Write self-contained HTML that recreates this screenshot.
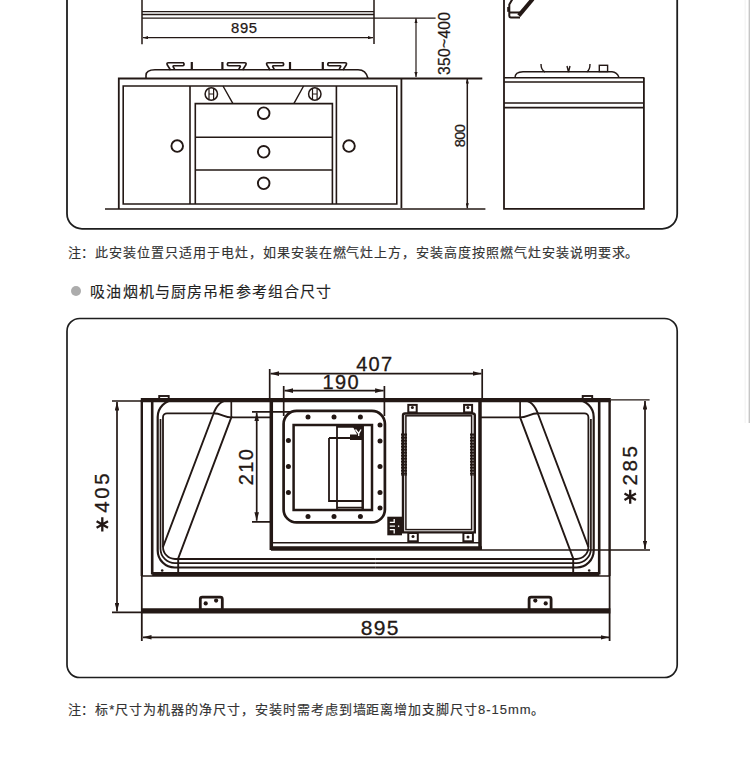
<!DOCTYPE html>
<html lang="zh-CN"><head><meta charset="utf-8">
<style>
html,body{margin:0;padding:0;background:#fff;width:750px;height:767px;overflow:hidden;}
body{position:relative;font-family:"Liberation Sans",sans-serif;}
svg{position:absolute;left:0;top:0;}
.t{position:absolute;white-space:nowrap;color:#333;-webkit-text-stroke:0.15px #333;}
</style></head><body>
<svg width="750" height="767" viewBox="0 0 750 767">
<defs>
<marker id="ah" viewBox="0 0 10 10" refX="10" refY="5" markerWidth="8.5" markerHeight="4.6" orient="auto-start-reverse" markerUnits="userSpaceOnUse" preserveAspectRatio="none"><path d="M0,0 L10,5 L0,10 z" fill="#231815"/></marker>
<marker id="ah2" viewBox="0 0 10 10" refX="10" refY="5" markerWidth="5" markerHeight="3.2" orient="auto-start-reverse" markerUnits="userSpaceOnUse" preserveAspectRatio="none"><path d="M0,0 L10,5 L0,10 z" fill="#231815"/></marker>
</defs>
<!-- right scrollbar line -->
<rect x="748.6" y="0" width="1.4" height="423" fill="#c6c6c6"/><rect x="744.5" y="0" width="1.5" height="423" fill="#f6f6f6"/>
<g fill="none" stroke="#231815" stroke-width="1.6">
<!-- panel 1 -->
<path d="M67,-20 V213.8 A15,15 0 0 0 82,228.8 H662.2 A15,15 0 0 0 677.2,213.8 V-20" stroke-width="1.8" stroke="#1e1e1e"/>
<!-- panel 2 -->
<path d="M67,331.2 A12.7,12.7 0 0 1 79.7,318.5 H664.5 A12.7,12.7 0 0 1 677.2,331.2 V664.8 A12.7,12.7 0 0 1 664.5,677.5 H79.7 A12.7,12.7 0 0 1 67,664.8 Z" stroke-width="1.7" stroke="#1e1e1e"/>
</g>
<g id="top" fill="none" stroke="#231815" stroke-width="1.5">
<!-- hood -->
<path d="M142,-2 V44.3 M374,-2 V44"/>
<path d="M142,11.7 H374 M142,14.5 H374 M142,18.1 H435.6" stroke-width="1.3"/>
<!-- 895 dim -->
<path d="M143,37.7 H373" stroke-width="1.2" marker-start="url(#ah2)" marker-end="url(#ah2)"/>
<!-- 350~400 dim -->
<path d="M416,18.3 V77" stroke-width="1.2" marker-start="url(#ah2)" marker-end="url(#ah2)"/>
<!-- 800 dim -->
<path d="M467.3,78.5 V208.3" stroke-width="1.5" marker-start="url(#ah2)" marker-end="url(#ah2)"/>
<!-- cooktop -->
<path d="M146,78.5 V75.5 Q146,69.8 155,69.8 H358 Q366,69.8 368,78.5" stroke-width="1.6"/>
<!-- cabinet -->
<path d="M118.8,209 V78.5 H482.3" stroke-width="1.8"/>
<path d="M401.4,78.5 V208" stroke-width="1.8"/>
<path d="M123.2,204 V86 H396.8 V204 Z" stroke-width="1.6"/>
<path d="M105,209 H485.4" stroke-width="1.6"/>
<path d="M190,86 V204 M336.4,86 V204" stroke-width="1.6"/>
<path d="M195.3,204 V103.6 H332.4 V204 M195.3,137.2 H332.4 M195.3,170 H332.4" stroke-width="1.6"/>
<path d="M223,86 L232.8,103.4 M303.6,86 L294,103.4" stroke-width="1.4"/>
<circle cx="177.2" cy="146.1" r="5.8" stroke-width="1.9"/>
<circle cx="349" cy="146.1" r="5.8" stroke-width="1.9"/>
<circle cx="263.7" cy="113.2" r="5.8" stroke-width="1.9"/>
<circle cx="263.7" cy="151.8" r="5.8" stroke-width="1.9"/>
<circle cx="263.7" cy="183.3" r="5.8" stroke-width="1.9"/>
<circle cx="211.3" cy="94" r="6.2"/>
<circle cx="314.8" cy="94" r="6.2"/>
<path d="M209,89 V99 M213.6,89 V99 M209,94 H213.6 M312.5,89 V99 M317.1,89 V99 M312.5,94 H317.1" stroke-width="1.2"/>
<!-- grates -->
<path d="M191.8,62 V69.5 M222.4,62 V69.5 M290,62 V69.5 M322.8,62 V69.5" stroke-width="2.2"/>
<g id="grL"><path d="M183.2,65.9 Q184.8,64.3 183.4,62.8 H168.5 Q166.3,62.8 167.2,64.8 L170.5,70 M183.2,65.8 H173.8 Q172.6,66 173.3,67 L174.6,69.2" stroke-width="1.6"/></g>
<g id="grR"><path d="M228.2,65.9 Q226.6,64.3 228,62.8 H244.6 Q246.8,62.8 245.9,64.8 L242.6,70 M228.2,65.8 H239.6 Q240.8,66 240.1,67 L238.8,69.2" stroke-width="1.6"/></g>
<use href="#grL" transform="translate(99.6,0)"/>
<use href="#grR" transform="translate(100.4,0)"/>
<!-- side view -->
<path d="M504,-2 V208.8 H643.9 V77.7" stroke-width="1.8"/>
<path d="M504,77.7 H644.4 M504,82 H644 M504,103 H643 M504,107.6 H644" stroke-width="1.6"/>
<path d="M515,77.5 Q515,72 523,71.8 H612 Q617,72 619,77.5" stroke-width="1.4"/>
<rect x="599.3" y="65.3" width="8.3" height="6.3" stroke-width="1.4"/>
<path d="M541,64 Q541,70 545,72 M567,66 L568.5,72 L570,66 M590,64 Q590,70 586.7,72" stroke-width="1.4"/>
<path d="M512.5,-1 L509.3,4.5 V15.8 Q509.3,17.4 511,17.4 H520 M509.3,12.4 H521" stroke-width="2"/><path d="M518.8,15.6 L532.8,-1" stroke-width="4"/><path d="M508.4,7 V11.8" stroke-width="2.4"/>
</g>
<g id="d2" fill="none" stroke="#231815">
<!-- symmetric left half + mirror -->
<g id="half">
<path d="M141.8,400 V576" stroke-width="2.4"/><path d="M141.8,576 V641" stroke-width="1.8"/>
<path d="M152.2,400 V574.5" stroke-width="2.6"/>
<rect x="159.2" y="396" width="9.5" height="3.5" stroke-width="1.9"/>
<path d="M174.6,400 A17,17 0 0 0 157.7,417 V550.5 A17,17 0 0 0 174.7,567.5 H375.7" stroke-width="2.2"/>
<path d="M160.5,419 V548.7 A14.5,14.5 0 0 0 175,563.2 H375.7" stroke-width="1.7"/>
<path d="M212.7,413.3 H167 A4,4 0 0 0 163,417.3 V547 A12,12 0 0 0 175,559 H375.7" stroke-width="1.8"/>
<path d="M231.3,400 V417.4 H271" stroke-width="1.7"/>
<path d="M229,400 C221,400 216,406 213,415 L163,547" stroke-width="1.9"/>
<path d="M212.7,413.3 C222,413.3 224,417.4 231.3,417.4 L178.2,558.4 V574" stroke-width="1.9"/>
<circle cx="162.2" cy="570.5" r="1.3" fill="#231815" stroke="none"/>
<rect x="200.3" y="597.2" width="22" height="13" rx="2" stroke-width="2.8"/>
<circle cx="205.7" cy="603.4" r="2.1" fill="#231815" stroke="none"/>
<circle cx="216.1" cy="600.6" r="2.1" fill="#231815" stroke="none"/>
</g>
<use href="#half" transform="translate(751.4,0) scale(-1,1)"/>
<path d="M140.8,400.2 H610.8" stroke-width="4.2"/>
<path d="M152.2,573.9 H599.3" stroke-width="4"/>
<path d="M141.8,576 H609.6" stroke-width="1.4"/>
<path d="M141,610.8 H610.4" stroke-width="5.2"/>
<path d="M610.8,399.8 H649.6 M482,550 H650" stroke-width="1.3"/>
<!-- dims -->
<path d="M112,401 H141 M112,612.4 H142" stroke-width="1.7"/>
<path d="M117,402 V611.4" stroke-width="1.7" marker-start="url(#ah)" marker-end="url(#ah)"/>
<path d="M143,637.3 H609" stroke-width="1.7" marker-start="url(#ah)" marker-end="url(#ah)"/>
<path d="M645,401 V549" stroke-width="1.7" marker-start="url(#ah)" marker-end="url(#ah)"/>
<path d="M269.7,369 V400 M482.2,369 V400" stroke-width="1.7"/>
<path d="M270.5,373.6 H481.4" stroke-width="1.7" marker-start="url(#ah)" marker-end="url(#ah)"/>
<path d="M283.7,386 V416 M384.4,386 V416" stroke-width="1.7"/>
<path d="M284.5,390.6 H383.6" stroke-width="1.7" marker-start="url(#ah)" marker-end="url(#ah)"/>
<path d="M252,411.8 H292 M252,521.8 H271" stroke-width="1.7"/>
<path d="M256.7,412.6 V520.7" stroke-width="1.7" marker-start="url(#ah)" marker-end="url(#ah)"/>
<!-- centre housing -->
<path d="M271.3,400 V550 M480,400 V550" stroke-width="3.5"/>
<path d="M271,548.5 H482" stroke-width="4.6"/>
<path d="M271,542.7 H480" stroke-width="1.5"/>
<!-- mounting plate -->
<rect x="283.6" y="410.9" width="101.3" height="111.5" rx="13" stroke-width="2.7"/>
<rect x="293.6" y="425" width="78.4" height="85" stroke-width="2.5"/>
<path d="M337,425 V510 M329,438 V501 H362.7 M329,438 H352 M337,507.6 H362.7 M337,426.8 H362" stroke-width="1.8"/><path d="M362.7,425 V510" stroke-width="2.5"/>
<path d="M350,434.5 H362.7 V440 H350 Z M353,427 H362.7 V436 H358 Z" fill="#231815" stroke="none"/><path d="M355.5,429.5 L358.7,433.5 L361,429.5 M358.7,433.5 V436" stroke="#fff" stroke-width="1.3"/>
<g fill="#231815" stroke="none">
<circle cx="308" cy="417" r="2.5"/><circle cx="334" cy="417" r="2.5"/><circle cx="360.4" cy="417" r="2.5"/>
<circle cx="308" cy="516.4" r="2.5"/><circle cx="334" cy="516.4" r="2.5"/><circle cx="360.4" cy="516.4" r="2.5"/>
<circle cx="288.4" cy="440.4" r="2.5"/><circle cx="288.4" cy="466.4" r="2.5"/><circle cx="288.4" cy="492.6" r="2.5"/>
<circle cx="380" cy="425" r="2.5"/><circle cx="380" cy="441" r="2.5"/><circle cx="380" cy="466.4" r="2.5"/><circle cx="380" cy="492.6" r="2.5"/><circle cx="380" cy="508" r="2.5"/>
</g>
<!-- control box -->
<path d="M403,532.4 V415.5 Q403,413.5 405,413.5 H472.8 Q474.8,413.5 474.8,415.5 V532.4 Z" stroke-width="2.4"/>
<rect x="405.9" y="415.8" width="65.7" height="113.8" stroke-width="1.5"/>
<path d="M404,433.5 V476 M473,433.5 V476" stroke-width="6" stroke-dasharray="2.3,0.7"/>
<rect x="408.3" y="404.9" width="8.4" height="7.5" stroke-width="2"/>
<rect x="464.1" y="404.9" width="8" height="7.5" stroke-width="2"/>
<rect x="408.3" y="533" width="9.5" height="8.3" stroke-width="2"/>
<rect x="463.4" y="533" width="9.5" height="8.3" stroke-width="2"/>
<g fill="#231815" stroke="none"><circle cx="412.4" cy="407.6" r="1.5"/><circle cx="467.9" cy="407.6" r="1.5"/><circle cx="413" cy="536.5" r="1.5"/><circle cx="468" cy="537" r="1.5"/></g>
<rect x="387.3" y="516.7" width="14.7" height="18.6" fill="#231815" stroke="none"/>
<path d="M394.2,519 V522.4 H389.8 M389.8,526.2 H395 M389.8,529.6 H394.2 V533.6" stroke="#fff" stroke-width="1.3" fill="none"/><rect x="397.4" y="525" width="2.4" height="2.4" fill="#fff"/>
</g>
</svg>
<svg width="750" height="767" viewBox="0 0 750 767" style="position:absolute;left:0;top:0">
<g fill="#231815" font-family="Liberation Sans, sans-serif" stroke="#231815" stroke-width="0.25">
<text x="244.3" y="32.8" font-size="14.8" letter-spacing="0.6" text-anchor="middle">895</text>
<text transform="translate(450.3,43.3) rotate(-90)" font-size="15.6" letter-spacing="0.3" text-anchor="middle">350~400</text>
<text transform="translate(464.9,136) rotate(-90)" font-size="14.6" letter-spacing="-0.6" text-anchor="middle">800</text>
<text x="374.8" y="370.7" font-size="20" letter-spacing="1.3" stroke-width="0.3" text-anchor="middle">407</text>
<text x="341.2" y="388.8" font-size="20" letter-spacing="1.3" stroke-width="0.3" text-anchor="middle">190</text>
<text transform="translate(253,466.5) rotate(-90)" font-size="20" letter-spacing="1.3" stroke-width="0.3" text-anchor="middle">210</text>
<text x="380.3" y="635" font-size="21" letter-spacing="1.4" stroke-width="0.3" text-anchor="middle">895</text>
<text transform="translate(109,491.8) rotate(-90)" font-size="20.5" letter-spacing="2.6" stroke-width="0.3" text-anchor="middle">405</text>
<text transform="translate(636.9,464.6) rotate(-90)" font-size="20.5" letter-spacing="2.6" stroke-width="0.3" text-anchor="middle">285</text>
</g>
<g stroke="#231815" stroke-width="2.3" fill="none">
<path d="M102.3,517.3 V531.5 M96.6,521.2 L108,527.8 M96.6,527.8 L108,521.2"/>
<path d="M630.2,489.8 V503.8 M624.5,493.5 L635.9,500.1 M624.5,500.1 L635.9,493.5"/>
</g></svg>
<div class="t" style="left:67.5px;top:244.1px;font-size:13px;line-height:18px;letter-spacing:0.95px;">注：此安装位置只适用于电灶，如果安装在燃气灶上方，安装高度按照燃气灶安装说明要求。</div>
<div style="position:absolute;left:71px;top:286px;width:10px;height:10px;border-radius:50%;background:#acacac;"></div>
<div class="t" style="left:90.3px;top:281.5px;font-size:15px;line-height:20px;letter-spacing:1.15px;color:#222;-webkit-text-stroke:0.12px #222;">吸油烟机与厨房吊柜参考组合尺寸</div>
<div class="t" style="left:67.5px;top:701.1px;font-size:13px;line-height:18px;letter-spacing:0.95px;">注：标*尺寸为机器的净尺寸，安装时需考虑到墙距离增加支脚尺寸8-15mm。</div>
</body></html>
